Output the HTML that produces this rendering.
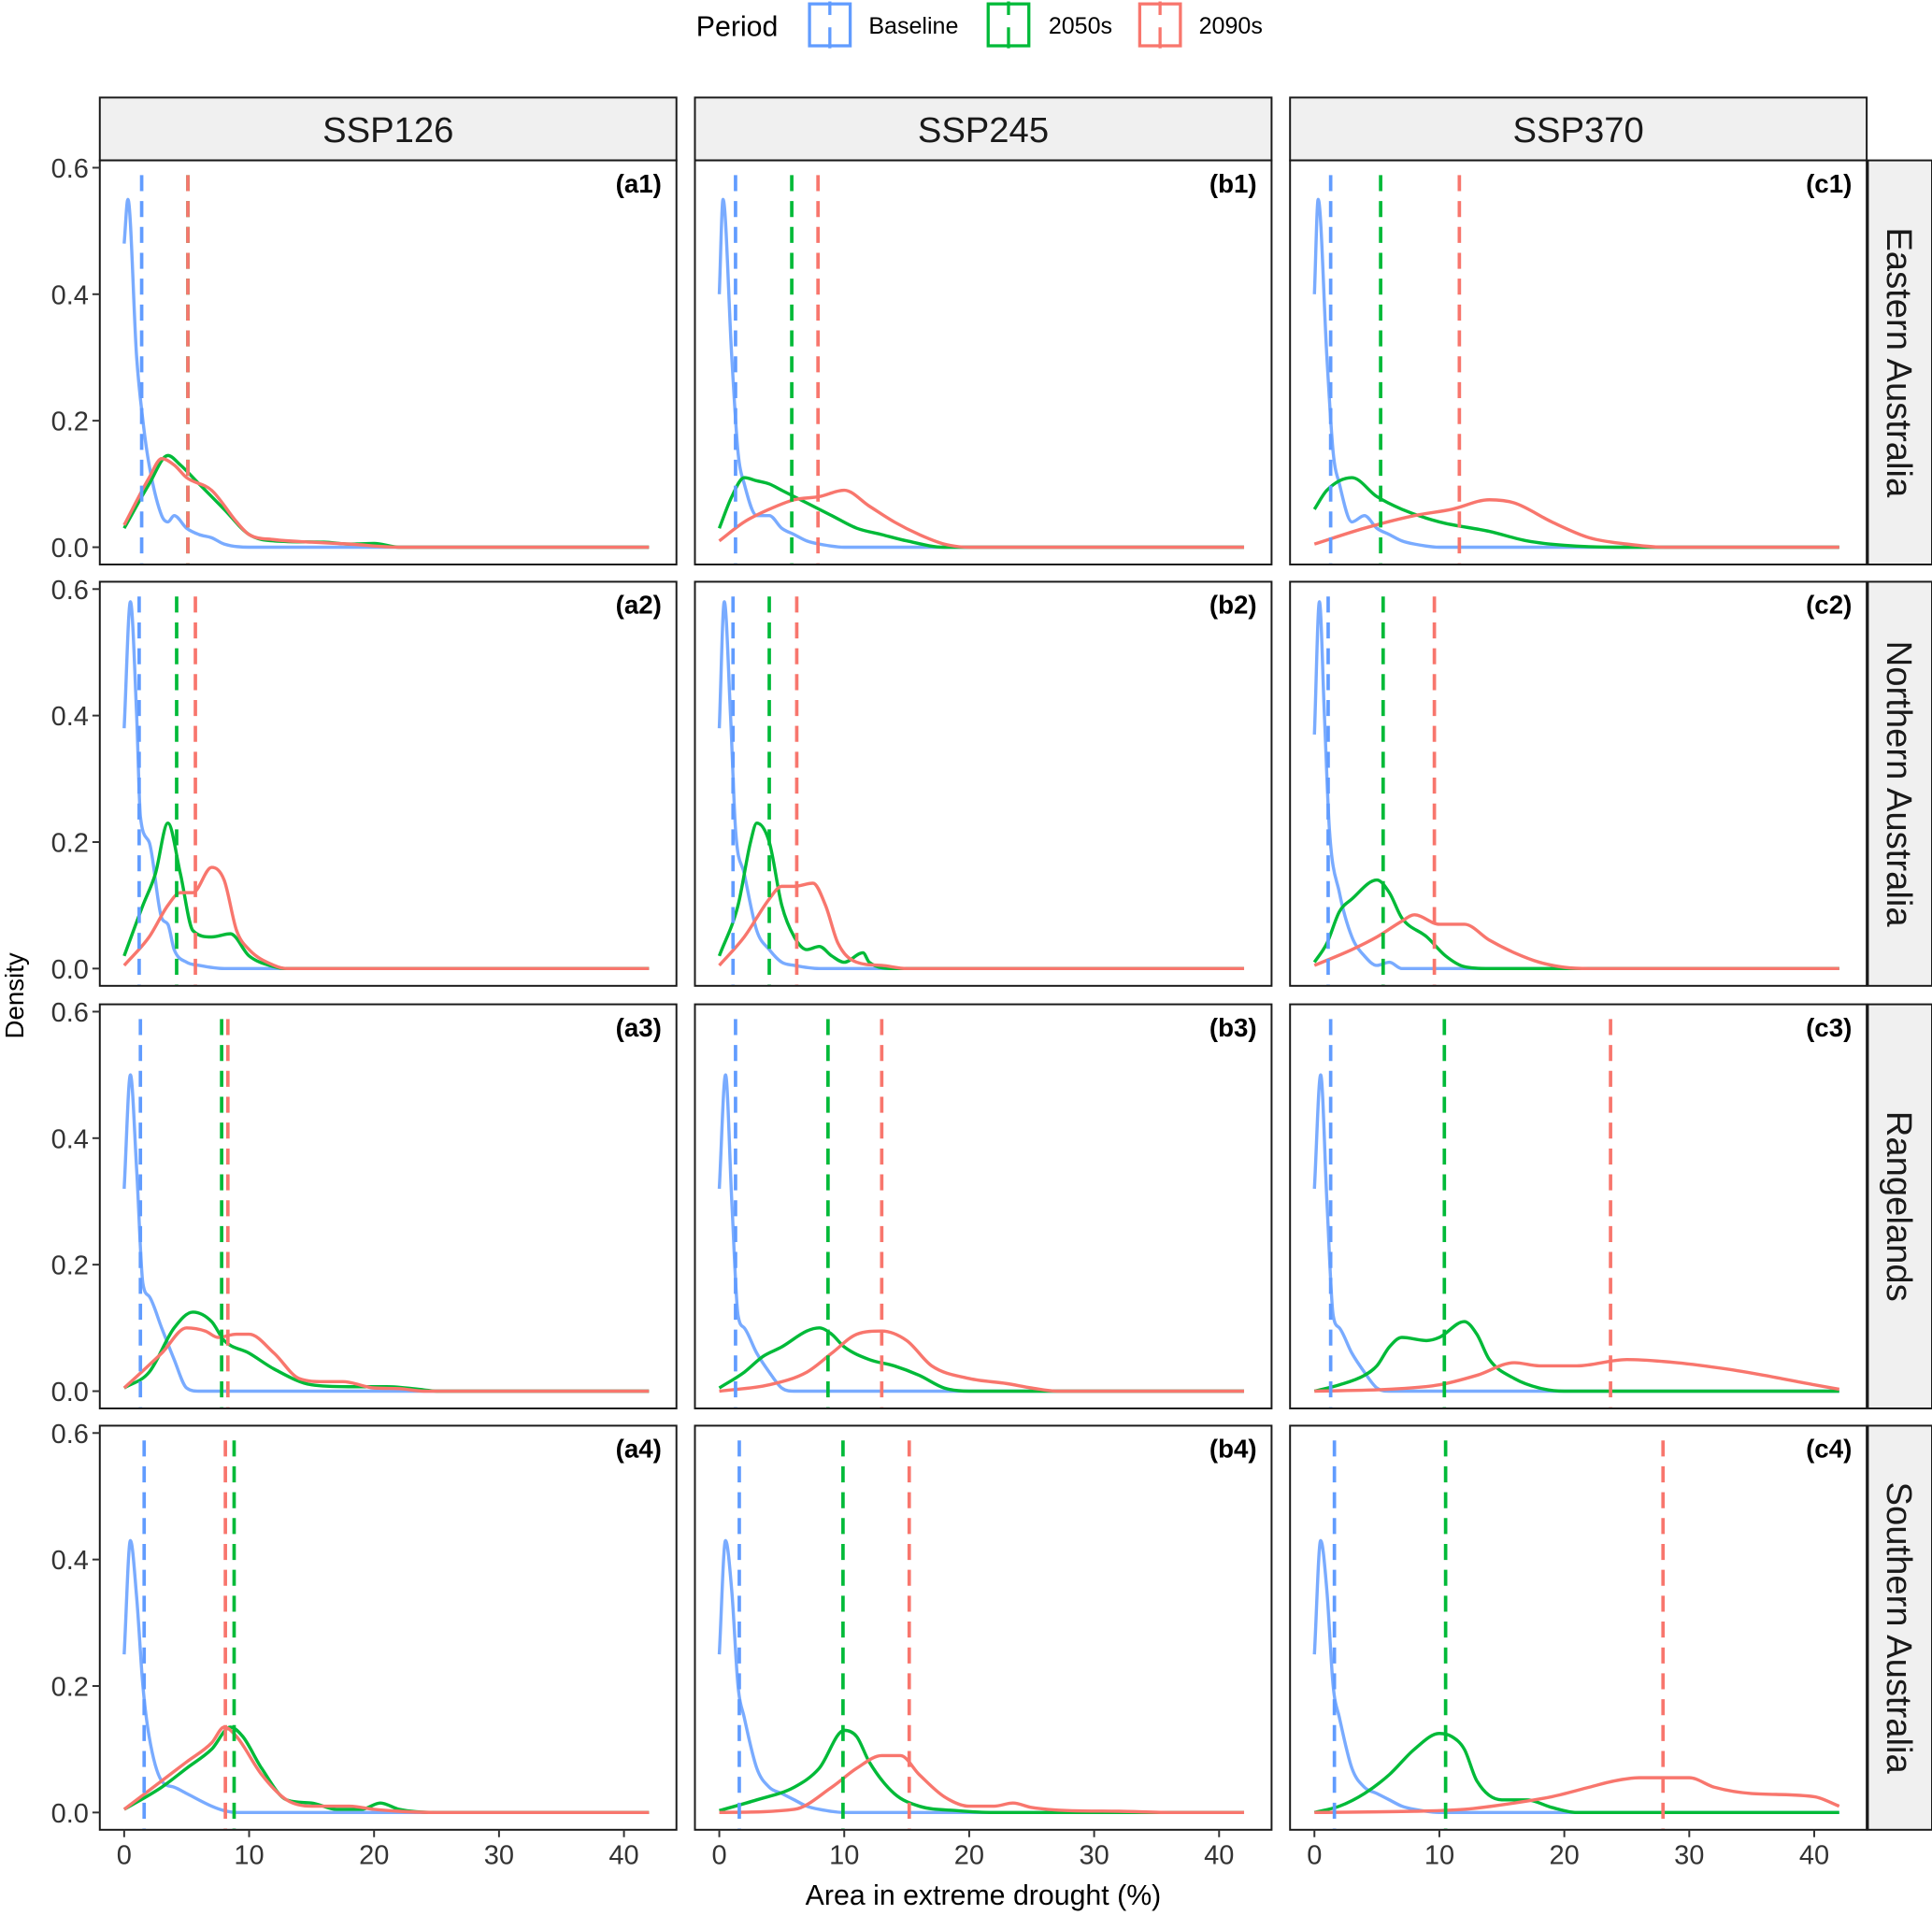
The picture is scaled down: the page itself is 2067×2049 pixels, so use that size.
<!DOCTYPE html>
<html><head><meta charset="utf-8"><style>
html,body{margin:0;padding:0;background:#fff;}
svg{display:block;font-family:"Liberation Sans",Arial,sans-serif;}
</style></head><body>
<svg id="chart" xmlns="http://www.w3.org/2000/svg" width="2067" height="2049" viewBox="0 0 1568 1554">
<rect width="1568" height="1554" fill="#fff"/>
<g id="legend">
  <text x="565" y="29" font-size="23">Period</text>
  <g>
    <rect x="657" y="3" width="33" height="34" fill="#fff" stroke="#619CFF" stroke-width="2.5"/>
    <line x1="673.5" y1="1" x2="673.5" y2="12" stroke="#619CFF" stroke-width="2.5"/><line x1="673.5" y1="22" x2="673.5" y2="39" stroke="#619CFF" stroke-width="2.5"/>
    <text x="705" y="27" font-size="19">Baseline</text>
  </g>
  <g>
    <rect x="802" y="3" width="33" height="34" fill="#fff" stroke="#00BA38" stroke-width="2.5"/>
    <line x1="818.5" y1="1" x2="818.5" y2="12" stroke="#00BA38" stroke-width="2.5"/><line x1="818.5" y1="22" x2="818.5" y2="39" stroke="#00BA38" stroke-width="2.5"/>
    <text x="851" y="27" font-size="19">2050s</text>
  </g>
  <g>
    <rect x="925" y="3" width="33" height="34" fill="#fff" stroke="#F8766D" stroke-width="2.5"/>
    <line x1="941.5" y1="1" x2="941.5" y2="12" stroke="#F8766D" stroke-width="2.5"/><line x1="941.5" y1="22" x2="941.5" y2="39" stroke="#F8766D" stroke-width="2.5"/>
    <text x="973" y="27" font-size="19">2090s</text>
  </g>
</g>
<g id="panels"></g>
<text x="798" y="1546" font-size="23" text-anchor="middle">Area in extreme drought (%)</text>
<text transform="translate(19,808) rotate(-90)" font-size="21" text-anchor="middle">Density</text>
</svg>
<script>
const scenarios = ["SSP126","SSP245","SSP370"];
const regions = ["Eastern Australia","Northern Australia","Rangelands","Southern Australia"];
const periods = ["Baseline","2050s","2090s"];
const xTicks = [0,10,20,30,40];
const yTicks = [0.0,0.2,0.4,0.6];
const yTickLabels = ["0.0","0.2","0.4","0.6"];
// means [panel][period]
const means = [
 [[1.4,5.1,5.1],[1.3,5.8,7.9],[1.3,5.3,11.6]],
 [[1.2,4.2,5.7],[1.1,4.0,6.2],[1.1,5.5,9.6]],
 [[1.3,7.8,8.3],[1.3,8.7,13.0],[1.3,10.4,23.7]],
 [[1.6,8.8,8.1],[1.6,9.9,15.2],[1.6,10.5,27.9]]
];
// density curves: flat [x,y,...] in data units, [row][col][period]
const dens = [
 [
  [[0,0.48,0.3,0.55,1,0.3,1.5,0.2,2,0.13,3,0.05,3.5,0.04,4,0.05,5,0.03,6,0.02,7,0.015,8,0.005,10,0,42,0],
   [0,0.03,2,0.1,3.5,0.145,4.5,0.13,6,0.1,8,0.06,10,0.02,12,0.01,16,0.008,18,0.005,20,0.006,22,0,42,0],
   [0,0.035,2,0.11,3,0.14,4,0.13,5,0.11,7,0.09,9,0.04,10,0.02,12,0.012,15,0.008,18,0.005,22,0,42,0]],
  [[0,0.4,0.3,0.55,1,0.3,1.5,0.15,2,0.1,3,0.05,4,0.05,5,0.03,6,0.02,7,0.01,8,0.005,10,0,42,0],
   [0,0.03,1,0.08,2,0.11,3,0.105,4,0.1,5,0.09,7,0.07,9,0.05,11,0.03,13,0.02,15,0.01,18,0,42,0],
   [0,0.01,2,0.04,4,0.06,6,0.075,8,0.08,10,0.09,12,0.065,14,0.04,16,0.02,18,0.005,20,0,42,0]],
  [[0,0.4,0.3,0.55,1,0.3,1.5,0.15,2,0.1,3,0.04,4,0.05,5,0.03,6,0.02,7,0.01,8,0.005,10,0,42,0],
   [0,0.06,1,0.09,3,0.11,5,0.08,7,0.06,10,0.04,14,0.025,17,0.01,20,0.003,24,0,42,0],
   [0,0.005,4,0.03,8,0.05,11,0.06,14,0.075,16,0.07,19,0.04,22,0.015,25,0.005,28,0,42,0]]
 ],
 [
  [[0,0.38,0.5,0.58,1,0.4,1.3,0.24,2,0.2,3,0.08,3.5,0.07,4,0.03,5,0.01,6,0.005,8,0,42,0],
   [0,0.02,1.5,0.1,2.5,0.15,3.5,0.23,4.5,0.15,5.5,0.06,7,0.05,8.5,0.055,10,0.02,12,0.003,13,0,42,0],
   [0,0.005,2,0.05,3.5,0.1,4.5,0.12,5.5,0.12,7,0.16,8,0.14,9,0.06,10,0.03,12,0.005,13,0,42,0]],
  [[0,0.38,0.4,0.58,0.9,0.4,1.3,0.22,2,0.15,3,0.06,4,0.03,5,0.01,6,0.005,8,0,42,0],
   [0,0.02,1.5,0.1,2.5,0.2,3,0.23,4,0.2,5,0.1,6,0.05,7,0.03,8,0.035,9,0.02,10,0.01,11.5,0.025,12,0.01,14,0,42,0],
   [0,0.005,2,0.05,4,0.11,5,0.13,6,0.13,7.5,0.135,8.5,0.1,9.5,0.04,11,0.01,13,0.005,15,0,42,0]],
  [[0,0.37,0.4,0.58,0.8,0.4,1.2,0.22,2,0.12,3,0.05,4,0.02,5,0.005,6,0.01,7,0,42,0],
   [0,0.01,1,0.04,2,0.09,3,0.11,5,0.14,6,0.12,7,0.08,9,0.05,10.5,0.02,12,0.003,14,0,42,0],
   [0,0.005,3,0.03,5,0.05,7,0.075,8,0.085,10,0.07,12,0.07,14,0.045,16,0.025,18,0.01,20,0.002,22,0,42,0]]
 ],
 [
  [[0,0.32,0.5,0.5,1,0.35,1.5,0.17,2,0.15,3,0.1,4,0.05,5,0.005,6,0,42,0],
   [0,0.005,2,0.03,4,0.1,5.5,0.125,7,0.11,8,0.08,10,0.06,12,0.035,15,0.01,18,0.007,21,0.007,24,0.002,25,0,42,0],
   [0,0.005,3,0.06,5,0.1,6.5,0.095,7.5,0.085,9,0.09,10,0.09,12,0.06,14,0.02,16,0.015,17.5,0.015,20,0.005,22,0.004,24,0,42,0]],
  [[0,0.32,0.5,0.5,1,0.3,1.5,0.12,2,0.1,3,0.06,4,0.03,5,0.005,6,0,42,0],
   [0,0.005,2,0.03,3.5,0.055,5,0.07,7,0.095,8,0.1,9,0.09,10,0.07,12,0.05,14,0.04,16,0.025,18,0.005,20,0,42,0],
   [0,0,4,0.01,7,0.03,9,0.06,11,0.09,13,0.095,15,0.08,17,0.04,20,0.02,23,0.012,25,0.005,27,0,42,0]],
  [[0,0.32,0.5,0.5,1,0.3,1.5,0.12,2,0.1,3,0.06,4,0.03,5,0.005,6,0,42,0],
   [0,0,2,0.01,4,0.025,5,0.04,6,0.07,7,0.085,9,0.08,10,0.085,12,0.11,13,0.09,14,0.05,16,0.02,18,0.005,20,0,42,0],
   [0,0,6,0.003,10,0.01,13,0.025,16,0.045,18,0.04,21,0.04,25,0.05,29,0.045,33,0.035,36,0.025,40,0.01,42,0.003]]
 ],
 [
  [[0,0.25,0.5,0.43,1,0.34,1.5,0.2,2,0.12,3,0.05,4,0.04,5,0.03,7,0.01,8,0.003,9,0,42,0],
   [0,0.005,3,0.04,5,0.07,7,0.1,8.5,0.135,9.5,0.12,11,0.07,13,0.02,15,0.015,17,0.005,19,0.005,20.5,0.015,22,0.005,25,0,42,0],
   [0,0.005,3,0.05,5,0.08,7,0.11,8,0.135,9,0.12,11,0.06,13,0.02,15,0.01,18,0.01,20,0.005,22,0.002,25,0,42,0]],
  [[0,0.25,0.5,0.43,1,0.35,1.5,0.2,2,0.15,3,0.07,4,0.04,5,0.03,6,0.02,7,0.01,8,0.005,10,0,42,0],
   [0,0.003,3,0.02,6,0.04,8,0.07,10,0.13,11,0.12,12,0.08,14,0.03,16,0.01,19,0.003,22,0,42,0],
   [0,0,6,0.005,9,0.04,11,0.07,13,0.09,14.5,0.09,16,0.06,18,0.025,20,0.01,22,0.01,23.5,0.015,25,0.008,28,0.003,32,0.002,36,0,42,0]],
  [[0,0.25,0.5,0.43,1,0.35,1.5,0.2,2,0.15,3,0.07,4,0.04,5,0.03,6,0.02,7,0.01,8,0.005,10,0,42,0],
   [0,0,2,0.01,4,0.03,6,0.06,8,0.1,10,0.125,11,0.12,12,0.1,13,0.05,15,0.02,17,0.02,19,0.008,21,0,42,0],
   [0,0,8,0.002,12,0.005,16,0.015,19,0.025,22,0.04,24,0.05,26,0.055,30,0.055,32,0.04,35,0.03,40,0.025,42,0.01]]
 ]
];
const panelLabels = [["(a1)","(b1)","(c1)"],["(a2)","(b2)","(c2)"],["(a3)","(b3)","(c3)"],["(a4)","(b4)","(c4)"]];
const colors = ["#619CFF","#00BA38","#F8766D"];

const NS = "http://www.w3.org/2000/svg";
const colX = [81,564,1047], panW = 468;
const rowY = [130,472,815,1157], panH = 328;
const XMIN = -1.95, XMAX = 44.2;
const YMIN = -0.0273, YMAX = 0.6116;
function xs(c, v){ return colX[c] + (v - XMIN) / (XMAX - XMIN) * panW; }
function ys(r, v){ return rowY[r] + panH - (v - YMIN) / (YMAX - YMIN) * panH; }
function mk(tag, attrs, parent){ const e = document.createElementNS(NS, tag); for (const k in attrs) e.setAttribute(k, attrs[k]); parent.appendChild(e); return e; }
// monotone cubic (Fritsch-Carlson)
function pathFrom(pts){
  const n = pts.length;
  const d = [], m = new Array(n);
  for (let i = 0; i < n - 1; i++) d.push((pts[i+1][1] - pts[i][1]) / (pts[i+1][0] - pts[i][0]));
  m[0] = d[0]; m[n-1] = d[n-2];
  for (let i = 1; i < n - 1; i++) m[i] = (d[i-1] * d[i] <= 0) ? 0 : (d[i-1] + d[i]) / 2;
  for (let i = 0; i < n - 1; i++) {
    if (d[i] === 0) { m[i] = 0; m[i+1] = 0; continue; }
    const a = m[i] / d[i], b = m[i+1] / d[i], s = a*a + b*b;
    if (s > 9) { const t = 3 / Math.sqrt(s); m[i] = t*a*d[i]; m[i+1] = t*b*d[i]; }
  }
  let p = "M" + pts[0][0].toFixed(2) + "," + pts[0][1].toFixed(2);
  for (let i = 0; i < n - 1; i++) {
    const h = (pts[i+1][0] - pts[i][0]) / 3;
    p += " C" + (pts[i][0] + h).toFixed(2) + "," + (pts[i][1] + m[i]*h).toFixed(2) + " " +
      (pts[i+1][0] - h).toFixed(2) + "," + (pts[i+1][1] - m[i+1]*h).toFixed(2) + " " +
      pts[i+1][0].toFixed(2) + "," + pts[i+1][1].toFixed(2);
  }
  return p;
}
const root = document.getElementById("panels");
scenarios.forEach((s, c) => {
  const g = mk("g", {}, root);
  
  
  mk("rect", {x: colX[c], y: 79, width: panW, height: 51, fill: "#F0F0F0", stroke: "#1a1a1a", "stroke-width": 1.5}, g);
  const t = mk("text", {x: colX[c] + panW / 2, y: 115, "font-size": 29, "text-anchor": "middle", fill: "#1a1a1a"}, g);
  t.textContent = s;
});
regions.forEach((rg, r) => {
  const g = mk("g", {}, root);
  
  
  mk("rect", {x: 1516, y: rowY[r], width: 52, height: panH, fill: "#F0F0F0", stroke: "#1a1a1a", "stroke-width": 1.5}, g);
  const cx = 1541, cy = rowY[r] + panH / 2;
  const t = mk("text", {x: cx, y: cy, "font-size": 29, "text-anchor": "middle", "dominant-baseline": "central", fill: "#1a1a1a", transform: "rotate(90 " + cx + " " + cy + ")"}, g);
  t.textContent = rg;
});
for (let r = 0; r < 4; r++) for (let c = 0; c < 3; c++) {
  const g = mk("g", {}, root);
  
  
  mk("rect", {x: colX[c], y: rowY[r], width: panW, height: panH, fill: "#fff"}, g);
  for (let p = 0; p < 3; p++) {
    const arr = dens[r][c][p];
    const pts = [];
    for (let i = 0; i < arr.length; i += 2) pts.push([xs(c, arr[i]), ys(r, arr[i + 1])]);
    const path = mk("path", {d: pathFrom(pts), fill: "none", stroke: colors[p], "stroke-width": 2.6, "stroke-opacity": p === 0 ? 0.85 : 1, "stroke-linejoin": "round"}, g);
    
    
  }
  for (let p = 0; p < 3; p++) {
    const m = means[r][c][p];
    const ln = mk("line", {x1: xs(c, m), x2: xs(c, m), y1: rowY[r] + 12, y2: rowY[r] + panH, stroke: colors[p], "stroke-width": 2.8, "stroke-dasharray": "13,8"}, g);
    
    
  }
  mk("rect", {x: colX[c], y: rowY[r], width: panW, height: panH, fill: "none", stroke: "#1a1a1a", "stroke-width": 1.5}, g);
  const lb = mk("text", {x: colX[c] + panW - 12, y: rowY[r] + 26, "font-size": 21, "font-weight": "bold", "text-anchor": "end"}, g);
  
  
  lb.textContent = panelLabels[r][c];
  if (c === 0) {
    yTicks.forEach((v, i) => {
      const y = ys(r, v);
      mk("line", {x1: colX[0] - 6, x2: colX[0], y1: y, y2: y, stroke: "#333", "stroke-width": 1.5}, g);
      const t = mk("text", {x: colX[0] - 9, y: y + 8, "font-size": 22, "text-anchor": "end", fill: "#333"}, g);
      
      
      t.textContent = yTickLabels[i];
    });
  }
  if (r === 3) {
    xTicks.forEach(v => {
      const x = xs(c, v);
      mk("line", {x1: x, x2: x, y1: rowY[3] + panH, y2: rowY[3] + panH + 6, stroke: "#333", "stroke-width": 1.5}, g);
      const t = mk("text", {x: x, y: rowY[3] + panH + 28, "font-size": 22, "text-anchor": "middle", fill: "#333"}, g);
      
      
      t.textContent = v;
    });
  }
}
</script>
</body></html>
